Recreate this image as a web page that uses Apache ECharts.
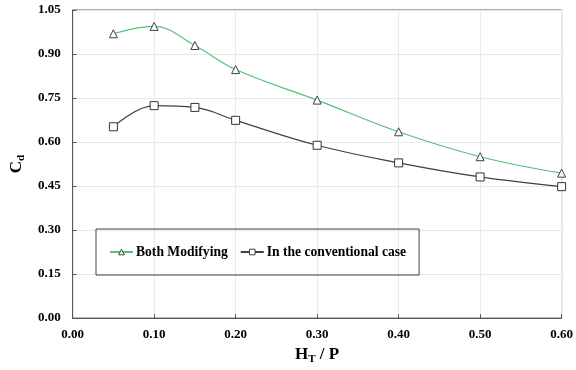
<!DOCTYPE html>
<html>
<head>
<meta charset="utf-8">
<script src="https://cdn.jsdelivr.net/npm/echarts@6/dist/echarts.min.js"></script>
<style>
  html, body { margin: 0; padding: 0; background: #fff; }
  #chart { width: 576px; height: 370px; }
</style>
</head>
<body>
<div id="chart"></div>
<script>
// H_T / P positions
const ratios = [0.05, 0.1, 0.15, 0.2, 0.3, 0.4, 0.5, 0.6];
// Cd values
const bothModifying = [0.969, 0.994, 0.929, 0.847, 0.743, 0.635, 0.550, 0.494];
const conventional = [0.652, 0.724, 0.718, 0.674, 0.589, 0.529, 0.481, 0.448];
const seriesNames = ["Both Modifying", "In the conventional case"];

const font = "'Liberation Serif', 'Times New Roman', serif";
const pair = (ys) => ratios.map((x, i) => [x, ys[i]]);

const chart = echarts.init(document.getElementById("chart"));

const option = {
  animation: false,
  grid: {
    left: 69,
    right: 12,
    top: 10,
    bottom: 45,
    show: true,
    borderColor: "#595959",
    borderWidth: 1,
  },
  legend: {
    data: seriesNames,
    left: 96,
    top: 229,
    padding: [16, 13, 16, 13],
    borderColor: "#404040",
    borderWidth: 1,
    itemGap: 12,
    itemWidth: 23,
    itemHeight: 7,
    itemStyle: { color: "#fff", borderColor: "#404040", borderWidth: 1 },
    textStyle: {
      fontFamily: font,
      fontWeight: "bold",
      fontSize: 13.6,
      color: "#000",
      padding: [0, 0, 0, -2],
    },
  },
  xAxis: {
    type: "value",
    min: 0,
    max: 0.6,
    interval: 0.1,
    name: "{m|H}{s|T}{m| / P}",
    nameLocation: "middle",
    nameGap: 25,
    nameTextStyle: {
      rich: {
        m: { fontFamily: font, fontWeight: "bold", fontSize: 17, color: "#000" },
        s: { fontFamily: font, fontWeight: "bold", fontSize: 11, color: "#000", padding: [10, 0, 0, 0] },
      },
    },
    axisLine: { lineStyle: { color: "#595959" } },
    axisTick: { show: true, inside: true, length: 4, lineStyle: { color: "#595959" } },
    axisLabel: {
      fontFamily: font,
      fontWeight: "bold",
      fontSize: 13,
      color: "#000",
      margin: 10,
      formatter: (v) => v.toFixed(2),
    },
    splitLine: { lineStyle: { color: "#e5e9f0" } },
  },
  yAxis: {
    type: "value",
    min: 0,
    max: 1.05,
    interval: 0.15,
    name: "{m|C}{s|d}",
    nameLocation: "middle",
    nameGap: 37,
    nameRotate: 90,
    nameTextStyle: {
      rich: {
        m: { fontFamily: font, fontWeight: "bold", fontSize: 17, color: "#000" },
        s: { fontFamily: font, fontWeight: "bold", fontSize: 11, color: "#000", padding: [10, 0, 0, 0] },
      },
    },
    axisLine: { show: true, lineStyle: { color: "#595959" } },
    axisTick: { show: true, inside: true, length: 4, lineStyle: { color: "#595959" } },
    axisLabel: {
      fontFamily: font,
      fontWeight: "bold",
      fontSize: 13,
      color: "#000",
      margin: 12,
      formatter: (v) => v.toFixed(2),
    },
    splitLine: { lineStyle: { color: "#e5e9f0" } },
  },
  series: [
    {
      name: seriesNames[0],
      type: "line",
      data: pair(bothModifying),
      smooth: 0.4,
      symbol: "triangle",
      symbolSize: 8,
      lineStyle: { color: "#55c07a", width: 1.2 },
      itemStyle: { color: "#fff", borderColor: "#404040", borderWidth: 1 },
    },
    {
      name: seriesNames[1],
      type: "line",
      data: pair(conventional),
      smooth: 0.4,
      symbol: "rect",
      symbolSize: 8,
      lineStyle: { color: "#404040", width: 1.2 },
      itemStyle: { color: "#fff", borderColor: "#333", borderWidth: 1 },
    },
  ],
};

chart.setOption(option);
</script>
</body>
</html>
